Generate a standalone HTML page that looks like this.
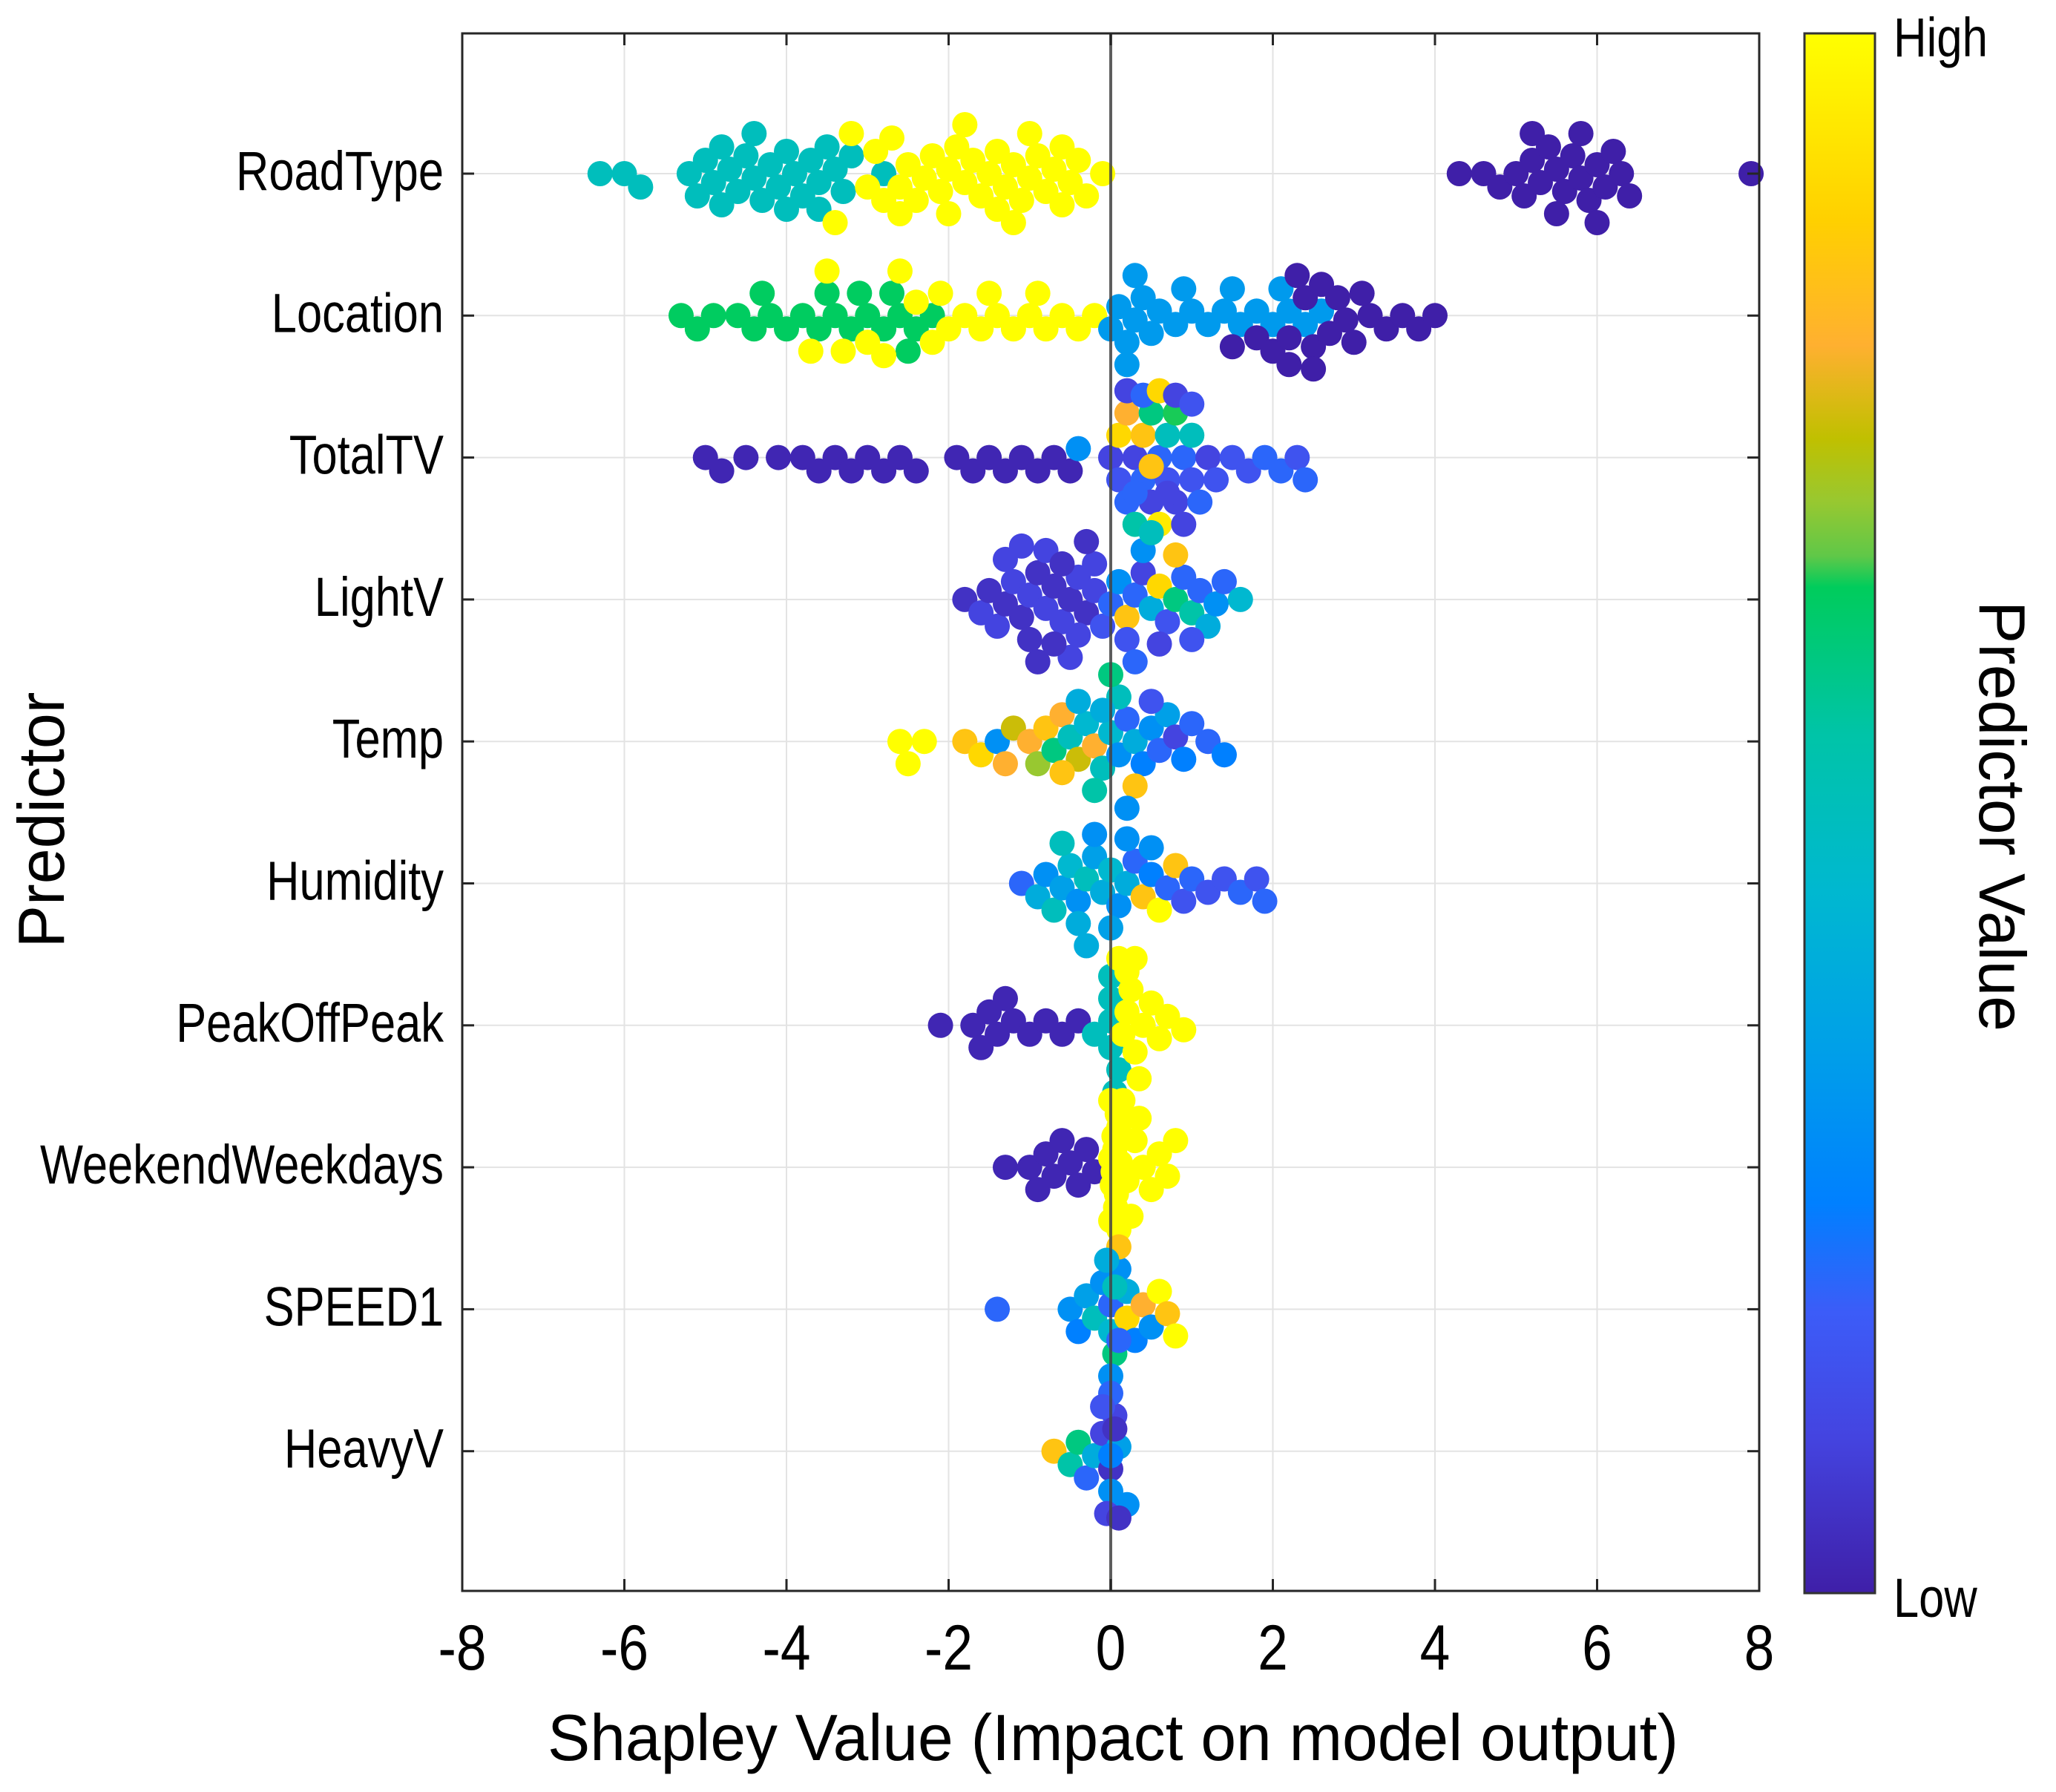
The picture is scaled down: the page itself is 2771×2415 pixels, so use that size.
<!DOCTYPE html>
<html><head><meta charset="utf-8"><style>
html,body{margin:0;padding:0;background:#fff;}
svg text{font-family:"Liberation Sans",Arial,sans-serif;fill:#000;}
</style></head><body>
<svg id="chart" width="2771" height="2410" viewBox="0 0 2771 2410" xmlns="http://www.w3.org/2000/svg">
<defs>
<linearGradient id="cbgrad" x1="0" y1="1" x2="0" y2="0">
<stop offset="0" stop-color="#3f1fa8"/><stop offset="0.1" stop-color="#4444e0"/><stop offset="0.18" stop-color="#3c5cf8"/>
<stop offset="0.25" stop-color="#0080ff"/><stop offset="0.35" stop-color="#00a0e8"/><stop offset="0.45" stop-color="#00b8d0"/>
<stop offset="0.55" stop-color="#00c4a8"/><stop offset="0.645" stop-color="#00cc5c"/><stop offset="0.665" stop-color="#60c848"/>
<stop offset="0.7" stop-color="#98c830"/><stop offset="0.74" stop-color="#c0c000"/><stop offset="0.8" stop-color="#ffb030"/><stop offset="0.88" stop-color="#ffd000"/>
<stop offset="1" stop-color="#ffff00"/></linearGradient>
</defs>
<g id="grid"></g>
<g id="dots"></g>
<g id="axes"></g>
</svg>
<script>
const predictors = ["RoadType","Location","TotalTV","LightV","Temp","Humidity","PeakOffPeak","WeekendWeekdays","SPEED1","HeavyV"];
const xTicks = [-8,-6,-4,-2,0,2,4,6,8];

const roadTypeShap = [-6.3,-6.0,-5.8,-5.2,-5.1,-5.0,-4.9,-4.8,-4.7,-4.6,-4.5,-4.4,-4.3,-4.2,-4.1,-4.0,-3.9,-3.8,-3.7,-3.6,-3.5,-3.4,-3.3,-3.2,-4.8,-4.4,-4.0,-3.6,-2.8,
 -3.4,-3.2,-3.0,-2.9,-2.8,-2.7,-2.6,-2.5,-2.4,-2.3,-2.2,-2.1,-2.0,-1.9,-1.8,-1.7,-1.6,-1.5,-1.4,-1.3,-1.2,-1.1,-1.0,-0.9,-0.8,-0.7,-0.6,-0.5,-0.4,-0.3,-0.1,-2.6,-2.0,-1.4,-1.0,-0.6,-1.8,-1.2,
 4.3,4.6,4.8,5.0,5.1,5.2,5.3,5.4,5.5,5.6,5.7,5.8,5.9,6.0,6.1,6.2,6.3,6.4,5.5,5.8,6.0,5.2,7.9];
const roadTypeVal = [0.5,0.5,0.5,0.5,0.5,0.5,0.5,0.5,0.5,0.5,0.5,0.5,0.5,0.5,0.5,0.5,0.5,0.5,0.5,0.5,0.5,0.5,0.5,0.5,0.5,0.5,0.5,0.5,0.5,
 1,1,1,1,1,1,1,1,1,1,1,1,1,1,1,1,1,1,1,1,1,1,1,1,1,1,1,1,1,1,1,1,1,1,1,1,1,1,
 0,0,0,0,0,0,0,0,0,0,0,0,0,0,0,0,0,0,0,0,0,0,0];

const locationShap = [-5.3,-5.1,-4.9,-4.6,-4.4,-4.2,-4.0,-3.8,-3.6,-3.4,-3.2,-3.0,-2.8,-2.6,-2.4,-2.2,-3.1,-2.7,-4.3,-3.5,-2.5,
 -3.7,-3.5,-3.3,-3.0,-2.8,-2.6,-2.4,-2.2,-2.0,-1.8,-1.6,-1.4,-1.2,-1.0,-0.8,-0.6,-0.4,-0.2,-1.5,-0.9,-2.1,
 0.0,0.1,0.2,0.3,0.4,0.5,0.6,0.8,1.0,1.2,1.4,1.6,1.8,2.0,2.2,2.4,2.6,0.3,0.9,1.5,2.1,0.2,
 1.5,1.8,2.0,2.2,2.3,2.4,2.5,2.6,2.7,2.8,2.9,3.0,3.2,3.4,3.6,3.8,4.0,2.5,3.1,2.2];
const locationVal = [0.64,0.64,0.64,0.64,0.64,0.64,0.64,0.64,0.64,0.64,0.64,0.64,0.64,0.64,0.64,0.64,0.64,0.64,0.64,0.64,0.64,
 1,1,1,1,1,1,1,1,1,1,1,1,1,1,1,1,1,1,1,1,1,
 0.33,0.33,0.33,0.33,0.33,0.33,0.33,0.33,0.33,0.33,0.33,0.33,0.33,0.33,0.33,0.33,0.33,0.33,0.33,0.33,0.33,0.33,
 0,0,0,0,0,0,0,0,0,0,0,0,0,0,0,0,0,0,0,0];

const totalTVShap = [-5.0,-4.8,-4.5,-4.1,-3.8,-3.6,-3.4,-3.2,-3.0,-2.8,-2.6,-2.4,-1.9,-1.7,-1.5,-1.3,-1.1,-0.9,-0.7,-0.5,
 0.0,0.1,0.1,0.2,0.2,0.3,0.3,0.4,0.4,0.5,0.5,0.6,0.6,0.7,0.7,0.8,0.8,0.9,0.9,1.0,1.0,1.1,1.2,1.3,0.2,0.4,0.6,0.8,1.0,0.5,0.7,0.3,
 1.5,1.7,1.9,2.1,2.3,2.4,-0.4];
const totalTVVal = [0.02,0.02,0.02,0.02,0.02,0.02,0.02,0.02,0.02,0.02,0.02,0.02,0.02,0.02,0.02,0.02,0.02,0.02,0.02,0.02,
 0.1,0.15,0.9,0.2,0.8,0.1,0.55,0.2,0.85,0.1,0.6,0.2,0.95,0.15,0.5,0.1,0.65,0.2,0.1,0.15,0.5,0.2,0.1,0.15,0.1,0.2,0.9,0.1,0.15,0.85,0.1,0.2,
 0.15,0.15,0.2,0.2,0.15,0.2,0.3];

const lightVShap = [-1.8,-1.6,-1.5,-1.4,-1.3,-1.2,-1.1,-1.0,-0.9,-0.8,-0.7,-0.6,-0.5,-0.4,-0.3,-0.2,-0.1,-1.3,-1.0,-0.8,-0.6,-0.4,-0.2,-0.9,-0.5,-0.7,-1.1,-0.3,
 0.0,0.1,0.2,0.3,0.4,0.5,0.6,0.7,0.8,0.9,1.0,1.1,1.2,1.3,1.4,1.6,0.2,0.4,0.6,0.8,0.3,0.5,1.0];
const lightVVal = [0.05,0.1,0.05,0.1,0.05,0.1,0.05,0.1,0.05,0.1,0.05,0.1,0.05,0.1,0.05,0.1,0.15,0.1,0.05,0.1,0.05,0.1,0.1,0.05,0.1,0.05,0.1,0.05,
 0.2,0.3,0.85,0.2,0.1,0.4,0.9,0.15,0.6,0.2,0.55,0.2,0.4,0.3,0.2,0.45,0.15,0.3,0.1,0.85,0.2,0.5,0.15];

const tempShap = [-2.6,-2.5,-2.3,-1.8,-1.6,-1.4,-1.3,-1.2,-1.0,-0.9,-0.8,-0.7,-0.6,-0.5,-0.4,-0.3,-0.2,-0.1,-0.6,-0.4,-0.2,
 0.0,0.1,0.2,0.3,0.4,0.5,0.6,0.7,0.8,0.9,1.0,1.2,1.4,0.3,0.1,0.2,0.5,-0.1,0.0];
const tempVal = [1,1,1,0.85,0.9,0.3,0.8,0.75,0.8,0.7,0.85,0.6,0.8,0.5,0.75,0.45,0.8,0.5,0.85,0.4,0.55,
 0.45,0.3,0.2,0.4,0.25,0.3,0.2,0.35,0.1,0.25,0.2,0.2,0.25,0.85,0.5,0.3,0.15,0.4,0.6];

const humidityShap = [-1.1,-0.9,-0.8,-0.7,-0.6,-0.5,-0.4,-0.3,-0.2,-0.1,0.0,0.1,0.2,0.3,0.4,0.5,0.6,0.7,0.8,0.9,1.0,1.2,1.4,1.6,1.8,1.9,
 -0.6,-0.4,-0.2,0.0,0.2,-0.3,0.5];
const humidityVal = [0.2,0.4,0.3,0.5,0.35,0.45,0.3,0.5,0.35,0.4,0.45,0.3,0.4,0.2,0.85,0.25,1,0.2,0.85,0.15,0.2,0.15,0.15,0.2,0.15,0.2,
 0.5,0.4,0.3,0.35,0.3,0.4,0.3];

const peakShap = [-2.1,-1.7,-1.6,-1.5,-1.4,-1.3,-1.2,-1.0,-0.8,-0.6,-0.4,
 -0.2,0.0,0.0,0.0,0.1,0.0,0.05,
 0.1,0.15,0.2,0.25,0.3,0.35,0.4,0.5,0.6,0.7,0.9,0.2,0.3];
const peakVal = [0.02,0.02,0.02,0.02,0.02,0.02,0.02,0.02,0.02,0.02,0.02,
 0.5,0.5,0.5,0.5,0.5,0.5,0.5,
 1,1,1,1,1,1,1,1,1,1,1,1,1];

const weekendShap = [-1.3,-1.0,-0.9,-0.8,-0.7,-0.6,-0.5,-0.4,-0.3,-0.2,
 0.0,0.02,0.04,0.06,0.08,0.1,0.0,0.03,0.05,0.07,0.1,0.12,0.15,0.2,0.25,0.3,0.35,0.4,0.5,0.6,0.7,0.8,0.0,0.05,0.1];
const weekendVal = [0.02,0.02,0.02,0.02,0.02,0.02,0.02,0.02,0.02,0.02,
 1,1,1,1,1,1,1,1,1,1,1,1,1,1,1,1,1,1,1,1,1,1,1,1,1];

const speedShap = [-1.4,-0.5,-0.4,-0.3,-0.2,-0.1,0.0,0.0,0.05,0.1,0.1,0.2,0.2,0.3,0.4,0.5,0.6,0.7,0.8,0.0,0.05,-0.05,0.1];
const speedVal = [0.2,0.3,0.25,0.35,0.5,0.3,0.2,0.45,0.6,0.3,0.85,0.9,0.4,0.25,0.8,0.3,1,0.85,1,0.3,0.5,0.4,0.2];

const heavyShap = [-0.7,-0.5,-0.4,-0.3,-0.2,-0.1,0.0,0.0,0.05,0.1,0.2,0.0,-0.05,0.05,0.0,-0.1,0.1];
const heavyVal = [0.85,0.55,0.6,0.2,0.4,0.1,0.05,0.3,0.1,0.35,0.3,0.2,0.1,0.05,0.25,0.15,0.05];

const rowShap = [roadTypeShap,locationShap,totalTVShap,lightVShap,tempShap,humidityShap,peakShap,weekendShap,speedShap,heavyShap];
const rowVal = [roadTypeVal,locationVal,totalTVVal,lightVVal,tempVal,humidityVal,peakVal,weekendVal,speedVal,heavyVal];

const NS = "http://www.w3.org/2000/svg";
const L = 623, R = 2371, T = 45, B = 2144;
const xScale = v => L + (v + 8) / 16 * (R - L);
const row0 = 234, rowStep = 191.3;
const yScale = i => row0 + i * rowStep;

const cstops = [[0,[63,31,168]],[0.1,[68,68,224]],[0.18,[60,92,248]],[0.25,[0,128,255]],[0.35,[0,160,232]],[0.45,[0,184,208]],
 [0.55,[0,196,168]],[0.645,[0,204,92]],[0.665,[96,200,72]],[0.7,[152,200,48]],[0.74,[192,192,0]],[0.8,[255,176,48]],[0.88,[255,208,0]],[1,[255,255,0]]];
function cmap(v){
  v = Math.max(0, Math.min(1, v));
  for (let k = 1; k < cstops.length; k++) {
    if (v <= cstops[k][0]) {
      const a = cstops[k-1], b = cstops[k], t = (v - a[0]) / (b[0] - a[0]);
      const c = a[1].map((x, j) => Math.round(x + (b[1][j] - x) * t));
      return `rgb(${c[0]},${c[1]},${c[2]})`;
    }
  }
  return "rgb(255,255,0)";
}
function mk(tag, attrs, parent){ const e = document.createElementNS(NS, tag); for (const k in attrs) e.setAttribute(k, attrs[k]); parent.appendChild(e); return e; }
function squeeze(el, f){ const w = el.getComputedTextLength(); el.setAttribute('textLength', (w*f).toFixed(1)); el.setAttribute('lengthAdjust', 'spacingAndGlyphs'); }

const grid = document.getElementById('grid'), dots = document.getElementById('dots'), axes = document.getElementById('axes');
mk('rect', {x:L, y:T, width:R-L, height:B-T, fill:'#fff'}, grid);
xTicks.forEach(t => {
  const g = mk('line', {x1:xScale(t), x2:xScale(t), y1:T, y2:B, stroke:'#e3e3e3', 'stroke-width':2}, grid);
  
  
});
predictors.forEach((p, i) => {
  const g = mk('line', {x1:L, x2:R, y1:yScale(i), y2:yScale(i), stroke:'#e3e3e3', 'stroke-width':2}, grid);
  
  
});

// beeswarm layout
const rad = 17, minD = 28, stepY = 6, maxOff = 90;
rowShap.forEach((arr, i) => {
  const cy = yScale(i);
  const placed = [];
  arr.forEach((val, k) => {
    const px = xScale(val);
    let best = 0, bestD = -1;
    for (let s = 0; s < 200; s++) {
      const cand = s === 0 ? 0 : (s % 2 ? 1 : -1) * Math.ceil(s / 2) * stepY;
      if (Math.abs(cand) > maxOff) break;
      let md = Infinity;
      placed.forEach(q => { const d = Math.hypot(q[0]-px, q[1]-cand); if (d < md) md = d; });
      if (md >= minD) { best = cand; break; }
      if (md > bestD) { bestD = md; best = cand; }
    }
    placed.push([px, best]);
    const c = mk('circle', {cx:px, cy:cy + best, r:rad, fill:cmap(rowVal[i][k])}, dots);
    
    
  });
});
const zl = mk('line', {x1:xScale(0), x2:xScale(0), y1:T, y2:B, stroke:'#444', 'stroke-width':4, 'stroke-opacity':0.85}, dots);



// box and ticks
const box = mk('rect', {x:L, y:T, width:R-L, height:B-T, fill:'none', stroke:'#262626', 'stroke-width':3}, axes);


xTicks.forEach(t => {
  const x = xScale(t);
  mk('line', {x1:x, x2:x, y1:B, y2:B-16, stroke:'#262626', 'stroke-width':3}, axes);
  mk('line', {x1:x, x2:x, y1:T, y2:T+16, stroke:'#262626', 'stroke-width':3}, axes);
  const tx = mk('text', {x:x, y:2250, 'font-size':86, 'text-anchor':'middle'}, axes);
  tx.textContent = t;
  
  
  squeeze(tx, 0.85);
});
predictors.forEach((p, i) => {
  const y = yScale(i);
  mk('line', {x1:L, x2:L+16, y1:y, y2:y, stroke:'#262626', 'stroke-width':3}, axes);
  mk('line', {x1:R, x2:R-16, y1:y, y2:y, stroke:'#262626', 'stroke-width':3}, axes);
  const tx = mk('text', {x:598, y:y+22, 'font-size':74, 'text-anchor':'end'}, axes);
  tx.textContent = p;
  
  
  squeeze(tx, 0.83);
});
const xt = mk('text', {x:1500, y:2372, 'font-size':88, 'text-anchor':'middle', textLength:1524, lengthAdjust:'spacingAndGlyphs'}, axes);
xt.textContent = 'Shapley Value (Impact on model output)';


const yt = mk('text', {x:0, y:0, 'font-size':88, 'text-anchor':'middle', transform:'translate(86,1105) rotate(-90)', textLength:345, lengthAdjust:'spacingAndGlyphs'}, axes);
yt.textContent = 'Predictor';



// colorbar
const cb = mk('rect', {x:2432, y:T, width:95, height:2147-T, fill:'url(#cbgrad)', stroke:'#333', 'stroke-width':3}, axes);


const hi = mk('text', {x:2552, y:76, 'font-size':74, textLength:127, lengthAdjust:'spacingAndGlyphs'}, axes);
hi.textContent = 'High';


const lo = mk('text', {x:2552, y:2179, 'font-size':74}, axes);
lo.textContent = 'Low';


squeeze(lo, 0.83);
const ct = mk('text', {x:0, y:0, 'font-size':88, 'text-anchor':'middle', transform:'translate(2668,1100) rotate(90)', textLength:580, lengthAdjust:'spacingAndGlyphs'}, axes);
ct.textContent = 'Predictor Value';


</script>
</body></html>
